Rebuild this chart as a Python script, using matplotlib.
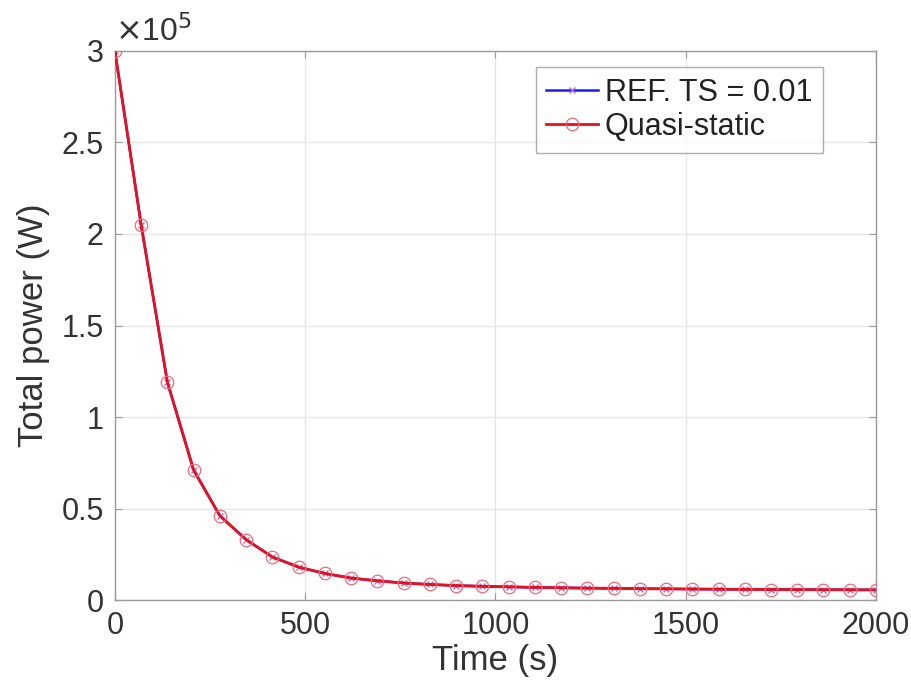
import matplotlib
matplotlib.use("Agg")
import matplotlib.pyplot as plt
import numpy as np

plt.rcParams['font.family'] = ['Liberation Sans', 'DejaVu Sans']

time_s = [2000 * k / 29 for k in range(30)]
ref_power = [300000, 205000, 119000, 71000, 46000, 33000, 23500, 18000, 14500, 12000,
             10500, 9300, 8500, 7900, 7500, 7200, 6900, 6700, 6500, 6400,
             6200, 6100, 6000, 5900, 5800, 5750, 5700, 5650, 5600, 5550]
qs_power = [300000, 205000, 119000, 71000, 46000, 33000, 23500, 18000, 14500, 12000,
            10500, 9300, 8500, 7900, 7500, 7200, 6900, 6700, 6500, 6400,
            6200, 6100, 6000, 5900, 5800, 5750, 5700, 5650, 5600, 5550]
xticks = [0, 500, 1000, 1500, 2000]
yticks = [0, 0.5, 1, 1.5, 2, 2.5, 3]
labels = ["REF. TS = 0.01", "Quasi-static"]

fig = plt.figure(figsize=(9.12, 6.87), dpi=100)
ax = fig.add_axes([0.126, 0.1266, 0.8345, 0.7992])

scale = 1e5
ax.plot(time_s, np.array(ref_power) / scale, color='#1a1aff', lw=1.8, marker='x',
        ms=5, mew=1.0, mec='#b070c0', label=labels[0], zorder=3)
ax.plot(time_s, np.array(qs_power) / scale, color='#e8101e', lw=2.0, marker='o',
        ms=9, mfc='none', mew=0.9, mec='#f06878', label=labels[1], zorder=4)

ax.set_xlim(0, 2000)
ax.set_ylim(0, 3)
ax.set_xticks(xticks)
ax.set_yticks(yticks)
ax.set_yticklabels([f"{v:g}" for v in yticks])
ax.grid(True, color='#e6e6e6', lw=1.0)
ax.set_axisbelow(True)
for s in ax.spines.values():
    s.set_color('#9a9a9a')
    s.set_linewidth(1.0)
ax.tick_params(direction='in', length=5, colors='#9a9a9a', labelcolor='#333333',
               labelsize=22, top=True, right=True, pad=8)

ax.set_xlabel("Time (s)", fontsize=25, color='#333333', labelpad=2)
ax.set_ylabel("Total power (W)", fontsize=25, color='#333333', labelpad=8)

ax.text(0.0, 1.005, r"$\times$10$^{5}$", transform=ax.transAxes, fontsize=23,
        color='#333333', ha='left', va='bottom')

leg = ax.legend(loc='upper right', bbox_to_anchor=(0.930, 0.971), fontsize=22,
                frameon=True, fancybox=False, edgecolor='#9a9a9a', handlelength=1.7,
                handletextpad=0.2, borderpad=0.35, labelspacing=0.15, borderaxespad=0.0)
leg.get_frame().set_linewidth(1.0)
for t in leg.get_texts():
    t.set_color('#222222')

fig.savefig("out.png", dpi=100)
